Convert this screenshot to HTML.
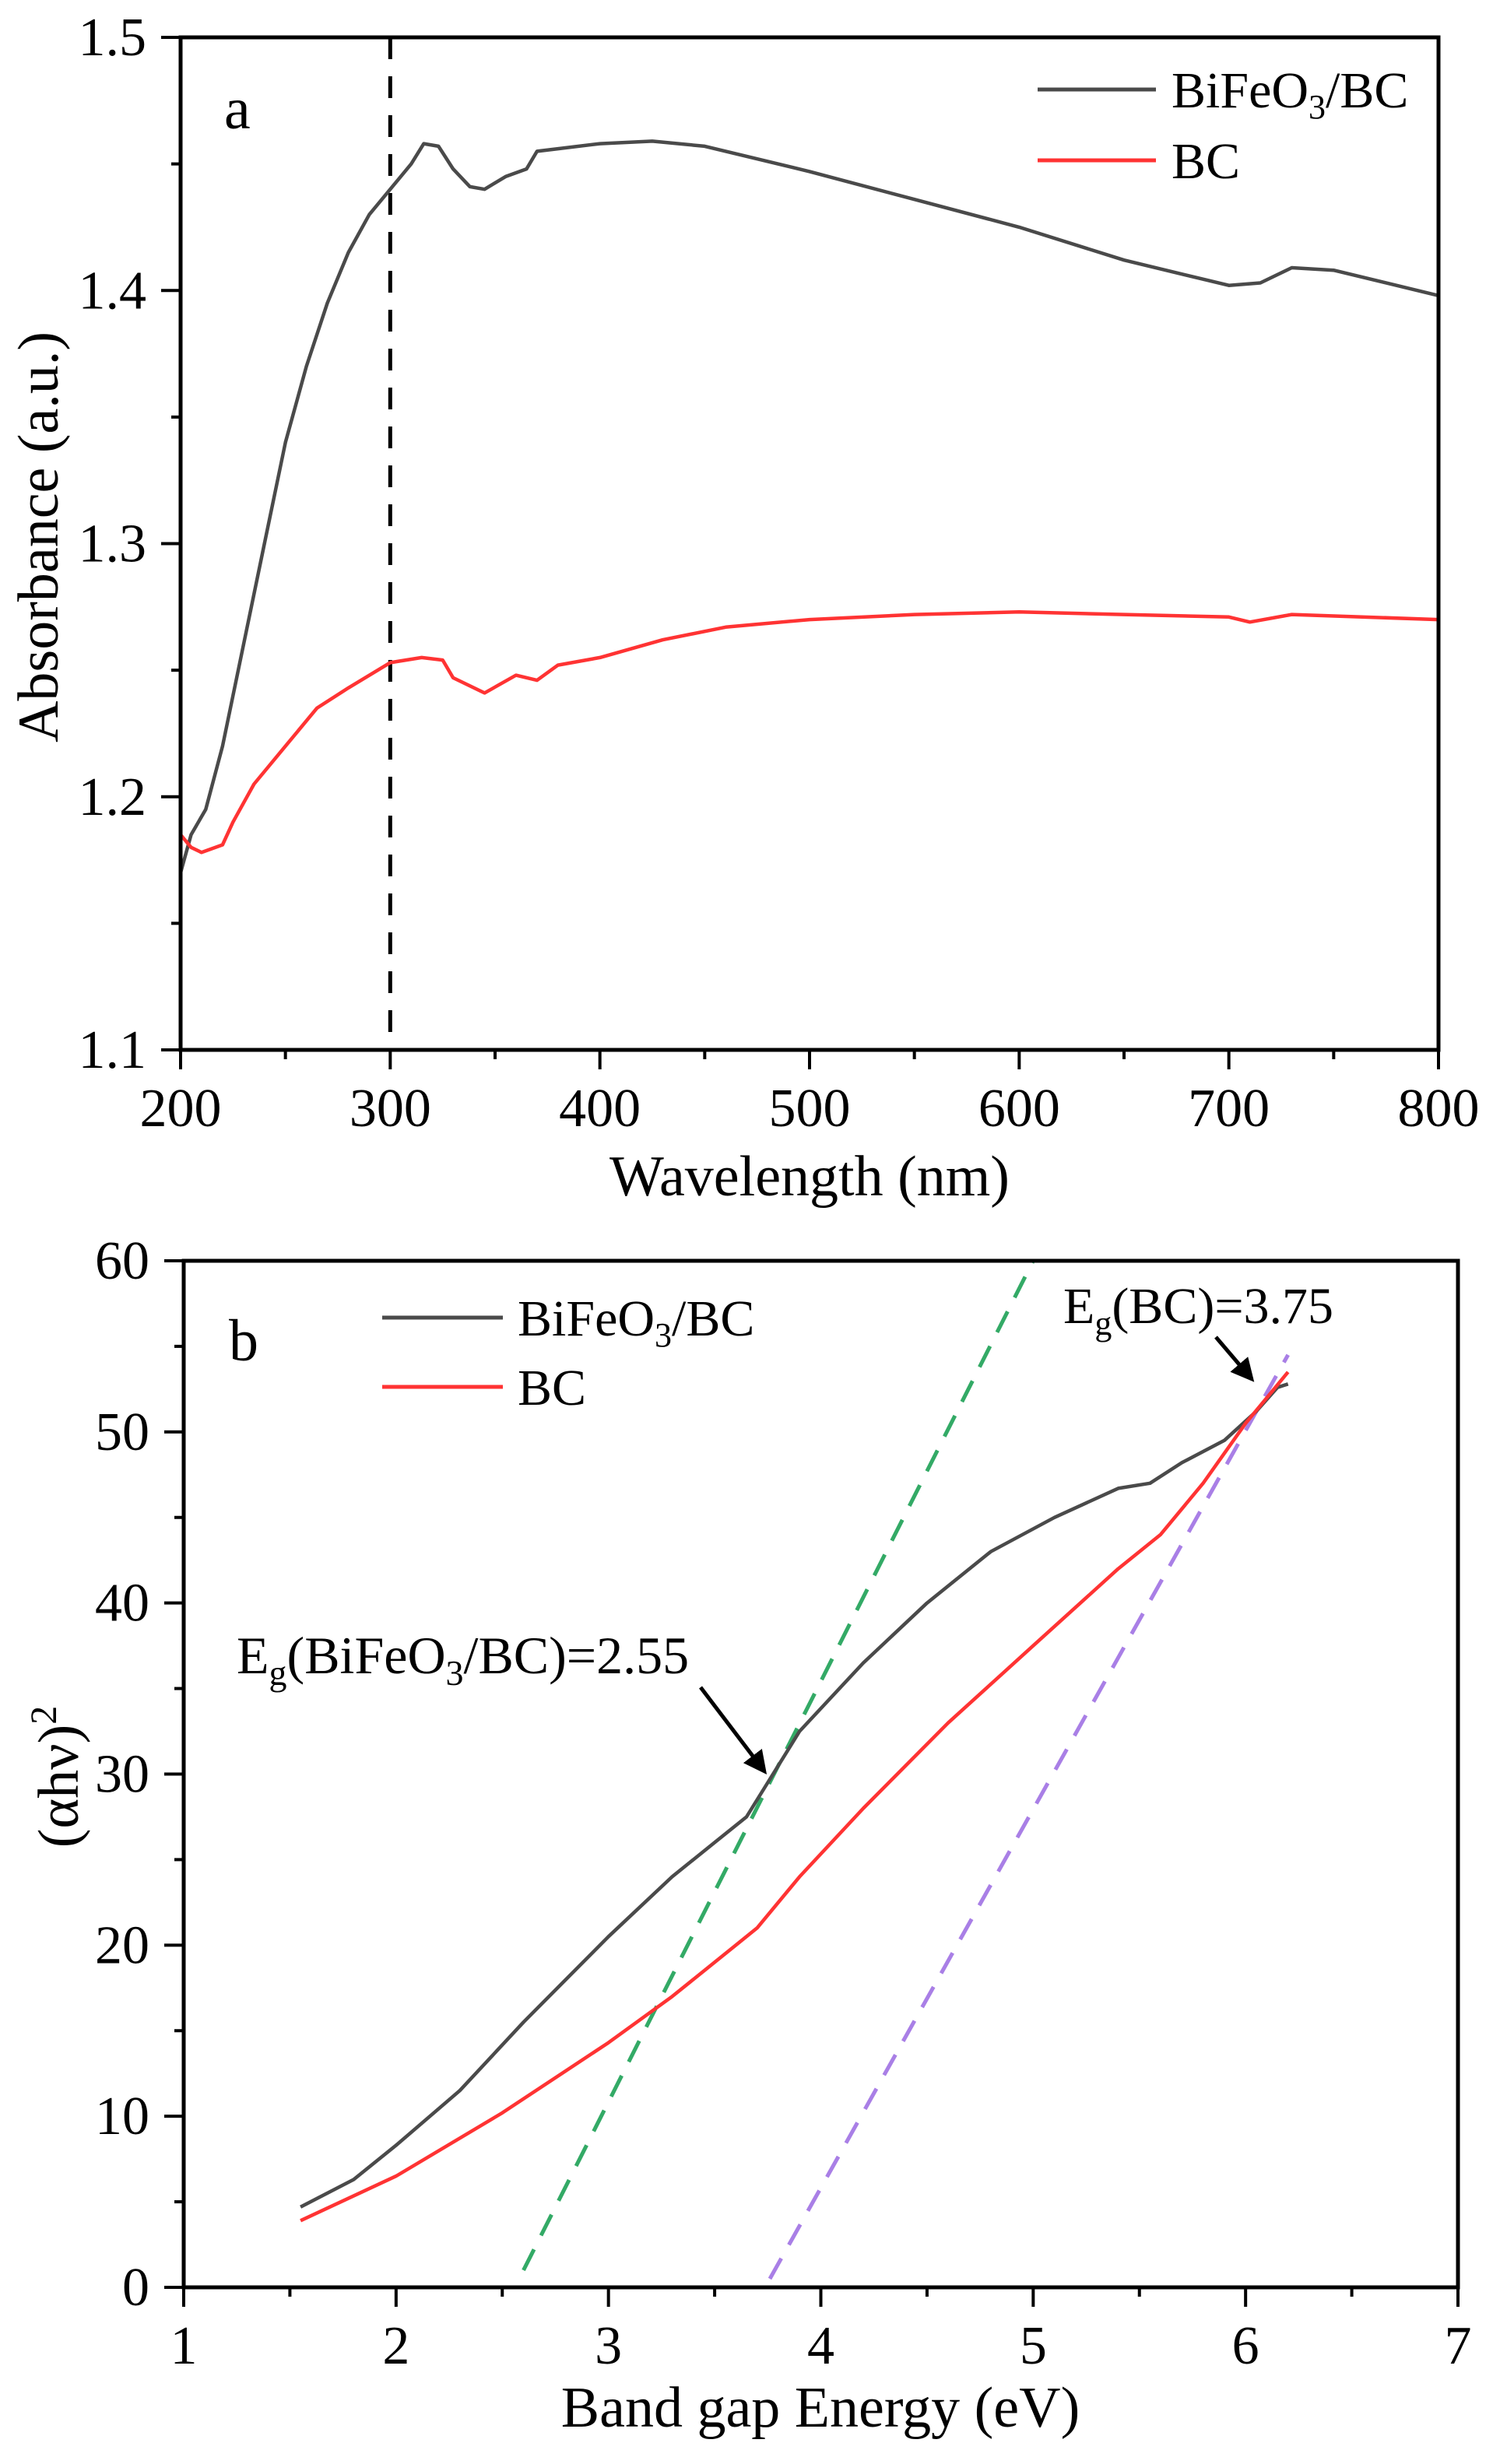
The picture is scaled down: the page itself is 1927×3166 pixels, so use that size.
<!DOCTYPE html>
<html><head><meta charset="utf-8"><style>
html,body{margin:0;padding:0;background:#fff;}
svg{display:block;}
text{font-family:"Liberation Serif",serif;fill:#000;}
</style></head><body>
<svg id="s" width="1927" height="3166" xmlns="http://www.w3.org/2000/svg"></svg>
<script>
var s=document.getElementById('s'),h='';
function ax(X0,X1,Y0,Y1,xmin,xmax,ymin,ymax){return {fx:function(v){return X0+(v-xmin)/(xmax-xmin)*(X1-X0)},fy:function(v){return Y1-(v-ymin)/(ymax-ymin)*(Y1-Y0)},X0:X0,X1:X1,Y0:Y0,Y1:Y1};}
function path(a,pts,col,w,dash){var d='';pts.forEach(function(p,i){d+=(i?'L':'M')+a.fx(p[0]).toFixed(1)+' '+a.fy(p[1]).toFixed(1)});h+='<path d="'+d+'" fill="none" stroke="'+col+'" stroke-width="'+w+'" stroke-linejoin="round"'+(dash?' stroke-dasharray="'+dash+'"':'')+'/>';}
function frame(a,xt,xm,yt,ym,xl,yl){
 h+='<rect x="'+a.X0+'" y="'+a.Y0+'" width="'+(a.X1-a.X0)+'" height="'+(a.Y1-a.Y0)+'" fill="none" stroke="#000" stroke-width="5"/>';
 xm.forEach(function(v){var x=a.fx(v);h+='<line x1="'+x+'" x2="'+x+'" y1="'+a.Y1+'" y2="'+(a.Y1+12)+'" stroke="#000" stroke-width="4"/>'});
 xt.forEach(function(v,i){var x=a.fx(v);h+='<line x1="'+x+'" x2="'+x+'" y1="'+a.Y1+'" y2="'+(a.Y1+25)+'" stroke="#000" stroke-width="4"/><text x="'+x+'" y="'+(a.Y1+98)+'" font-size="70" text-anchor="middle">'+xl[i]+'</text>'});
 ym.forEach(function(v){var y=a.fy(v);h+='<line x1="'+a.X0+'" x2="'+(a.X0-12)+'" y1="'+y+'" y2="'+y+'" stroke="#000" stroke-width="4"/>'});
 yt.forEach(function(v,i){var y=a.fy(v);h+='<line x1="'+a.X0+'" x2="'+(a.X0-25)+'" y1="'+y+'" y2="'+y+'" stroke="#000" stroke-width="4"/><text x="'+(a.X0-44)+'" y="'+(y+23)+'" font-size="70" text-anchor="end">'+yl[i]+'</text>'});
}
function rng(a,b,st){var r=[];for(var v=a;v<=b+1e-9;v+=st)r.push(+v.toFixed(4));return r;}
var A=ax(232,1848,48,1349,200,800,1.1,1.5);
path(A,[[300,1.5],[300,1.1]],'#000',5,'28 22');
path(A,[[200,1.17],[205,1.185],[212,1.195],[220,1.22],[230,1.26],[240,1.30],[250,1.34],[260,1.37],[270,1.395],[280,1.415],[290,1.43],[300,1.44],[310,1.45],[316,1.458],[323,1.457],[330,1.448],[338,1.441],[345,1.44],[355,1.445],[365,1.448],[370,1.455],[380,1.456],[400,1.458],[425,1.459],[450,1.457],[500,1.447],[550,1.436],[600,1.425],[650,1.412],[690,1.404],[700,1.402],[715,1.403],[730,1.409],[750,1.408],[800,1.398]],'#4a4a4a',4.5);
path(A,[[200,1.185],[205,1.18],[210,1.178],[220,1.181],[225,1.19],[235,1.205],[250,1.22],[265,1.235],[280,1.243],[300,1.253],[315,1.255],[325,1.254],[330,1.247],[345,1.241],[360,1.248],[370,1.246],[380,1.252],[400,1.255],[430,1.262],[460,1.267],[500,1.27],[550,1.272],[600,1.273],[650,1.272],[700,1.271],[710,1.269],[730,1.272],[800,1.27]],'#ff3333',4.5);
frame(A,rng(200,800,100),rng(250,750,100),rng(1.1,1.5,0.1),rng(1.15,1.45,0.1),['200','300','400','500','600','700','800'],['1.1','1.2','1.3','1.4','1.5']);
h+='<text x="1040" y="1536" font-size="74" text-anchor="middle">Wavelength (nm)</text>';
h+='<text transform="translate(74,690) rotate(-90)" font-size="74" text-anchor="middle">Absorbance (a.u.)</text>';
h+='<text x="288" y="165" font-size="76">a</text>';
h+='<line x1="1333" x2="1485" y1="115" y2="115" stroke="#4a4a4a" stroke-width="5"/><text x="1505" y="138" font-size="66">BiFeO<tspan font-size="44" dy="14">3</tspan><tspan dy="-14">/BC</tspan></text>';
h+='<line x1="1333" x2="1485" y1="206" y2="206" stroke="#ff3333" stroke-width="5"/><text x="1505" y="229" font-size="66">BC</text>';
var B=ax(236,1873,1620,2939,1,7,0,60);
path(B,[[2.6,1],[5.0,60]],'#33aa66',5,'30 20');
path(B,[[3.76,0.5],[6.2,54.5]],'#a97fe6',5,'30 20');
path(B,[[1.55,4.7],[1.8,6.3],[2.0,8.3],[2.3,11.5],[2.6,15.5],[3.0,20.5],[3.3,24],[3.5,26],[3.65,27.5],[3.75,29.5],[3.9,32.5],[4.2,36.5],[4.5,40],[4.8,43],[5.1,45],[5.4,46.7],[5.55,47],[5.7,48.2],[5.9,49.5],[6.05,51.2],[6.15,52.6],[6.2,52.8]],'#4a4a4a',4.5);
path(B,[[1.55,3.9],[2.0,6.5],[2.5,10.2],[3.0,14.3],[3.3,17],[3.6,20],[3.7,21],[3.9,24],[4.2,28],[4.6,33],[5.0,37.5],[5.4,42],[5.6,44],[5.8,47],[6.0,50.5],[6.1,52],[6.2,53.5]],'#ff3333',4.5);
frame(B,rng(1,7,1),rng(1.5,6.5,1),rng(0,60,10),rng(5,55,10),['1','2','3','4','5','6','7'],['0','10','20','30','40','50','60']);
h+='<text x="1054" y="3118" font-size="74" text-anchor="middle">Band gap Energy (eV)</text>';
h+='<text transform="translate(100,2283) rotate(-90)" font-size="74" text-anchor="middle">(αhν)<tspan font-size="48" dy="-28">2</tspan></text>';
h+='<text x="294" y="1748" font-size="76">b</text>';
h+='<line x1="491" x2="646" y1="1693" y2="1693" stroke="#4a4a4a" stroke-width="5"/><text x="665" y="1716" font-size="66">BiFeO<tspan font-size="44" dy="14">3</tspan><tspan dy="-14">/BC</tspan></text>';
h+='<line x1="491" x2="646" y1="1782" y2="1782" stroke="#ff3333" stroke-width="5"/><text x="665" y="1805" font-size="66">BC</text>';
h+='<text x="304" y="2150" font-size="68">E<tspan font-size="46" dy="15">g</tspan><tspan dy="-15">(BiFeO</tspan><tspan font-size="46" dy="15">3</tspan><tspan dy="-15">/BC)=2.55</tspan></text>';
h+='<text x="1366" y="1700" font-size="66">E<tspan font-size="44" dy="15">g</tspan><tspan dy="-15">(BC)=3.75</tspan></text>';
h+='<defs><marker id="m" markerWidth="6" markerHeight="6" refX="5" refY="3" orient="auto"><path d="M0,0 L6,3 L0,6 Z" fill="#000"/></marker></defs>';
h+='<line x1="900" x2="982" y1="2168" y2="2276" stroke="#000" stroke-width="5" marker-end="url(#m)"/>';
h+='<line x1="1562" x2="1608" y1="1718" y2="1772" stroke="#000" stroke-width="5" marker-end="url(#m)"/>';
s.innerHTML=h;
</script>
</body></html>
